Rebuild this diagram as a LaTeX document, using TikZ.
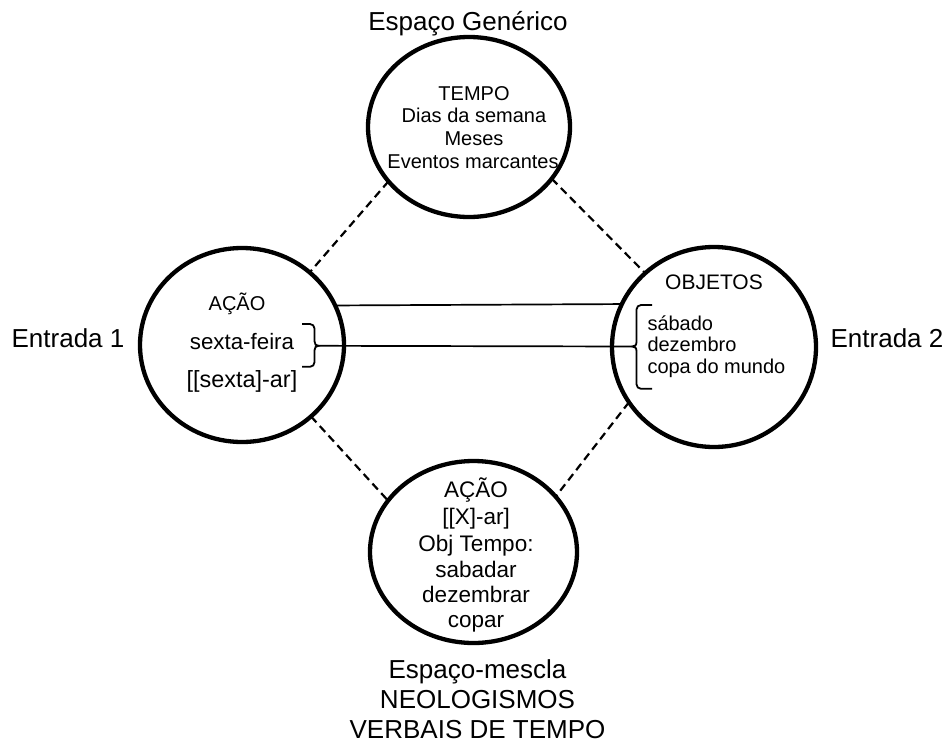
\documentclass[tikz,border=0pt]{standalone}
\usepackage{fontspec}
\setmainfont{Liberation Sans}
\usetikzlibrary{shapes.geometric}

\begin{document}
\begin{tikzpicture}[x=1pt,y=1pt,
  space/.style={ellipse, draw, line width=4.3pt, inner sep=0pt, outer sep=0pt},
  mapping/.style={draw, line width=2.2pt, dash pattern=on 8pt off 5pt},
  link/.style={draw, line width=1.7pt},
  curly/.style={draw, line width=1.8pt},
  label/.style={inner sep=0pt, anchor=base, font=\fontsize{26}{30}\selectfont},
  txt/.style={inner sep=0pt, anchor=base},
  listtxt/.style={inner sep=0pt, anchor=base west, font=\fontsize{20}{23}\selectfont}]
\useasboundingbox (0,0) rectangle (947,-744);

% the four mental spaces
\node[space, minimum width=202, minimum height=180] (gen) at (469,-127) {};
\node[space, minimum width=204, minimum height=194] (in1) at (242,-345) {};
\node[space, minimum width=204, minimum height=200] (in2) at (714,-347) {};
\node[space, minimum width=207, minimum height=182] (blend) at (473.5,-552) {};

% outer labels
\node[label] (lgen) at (468,-30.7) {Espaço Genérico};
\node[label] (lin1) at (68,-347) {Entrada 1};
\node[label] (lin2) at (887,-347) {Entrada 2};
\begin{scope}[every node/.append style={font=\fontsize{26.5}{30}\selectfont}]
\node[label] (lblend1) at (477.5,-678) {Espaço-mescla};
\node[label] (lblend2) at (477.5,-708) {NEOLOGISMOS};
\node[label] (lblend3) at (477.5,-738) {VERBAIS DE TEMPO};
\end{scope}

% contents of the generic space
\begin{scope}[every node/.append style={font=\fontsize{20}{23}\selectfont}]
\node[txt] (g1) at (474,-100) {TEMPO};
\node[txt] (g2) at (474,-122.3) {Dias da semana};
\node[txt] (g3) at (474,-145.2) {Meses};
\node[txt] (g4) at (473,-168) {Eventos marcantes};
\end{scope}

% contents of input 1
\node[txt, font=\fontsize{20}{24}\selectfont] (a1) at (237,-310.5) {AÇÃO};
\node[txt, font=\fontsize{22.3}{24}\selectfont] (a2) at (242,-349) {sexta-feira};
\node[txt, font=\fontsize{23.4}{24}\selectfont] (a3) at (242,-387) {[[sexta]-ar]};

% contents of input 2
\node[txt, font=\fontsize{21}{24}\selectfont] (b0) at (714,-289.3) {OBJETOS};
\node[listtxt] (b1) at (647.3,-330) {sábado};
\node[listtxt] (b2) at (647.3,-351.7) {dezembro};
\node[listtxt] (b3) at (647.3,-373.3) {copa do mundo};

% contents of the blend
\begin{scope}[every node/.append style={font=\fontsize{22.5}{25}\selectfont}]
\node[txt] (c1) at (476,-497.3) {AÇÃO};
\node[txt] (c2) at (476,-524.5) {[[X]-ar]};
\node[txt] (c3) at (476,-551) {Obj Tempo:};
\node[txt] (c4) at (476,-577) {sabadar};
\node[txt] (c5) at (476,-602) {dezembrar};
\node[txt] (c6) at (476,-627) {copar};
\end{scope}

% cross-space mappings
\draw[mapping] (gen.214.1) -- (in1.47.7);
\draw[mapping] (gen.328.5) -- (in2.133.9);
\draw[mapping] (in1.314.1) -- (blend.149);
\draw[mapping] (in2.213.7) -- (blend.34.3);

% braces grouping the counterparts
\coordinate (ltip) at (318.5,-345.8);
\coordinate (rtip) at (632.5,-346.5);
\draw[curly] (302,-324) -- (310,-324) to[out=0,in=90] (314.5,-328.5) -- (314.5,-341.3)
  .. controls (314.5,-344.3) and (316,-345.8) .. (ltip)
  .. controls (316,-345.8) and (314.5,-347.3) .. (314.5,-350.3) -- (314.5,-362.3)
  to[out=-90,in=0] (310,-366.8) -- (302,-366.8);
\draw[curly] (652,-305) -- (641,-305) to[out=180,in=90] (636.5,-309.5) -- (636.5,-341.8)
  .. controls (636.5,-345) and (635,-346.5) .. (rtip)
  .. controls (635,-346.5) and (636.5,-348) .. (636.5,-351.2) -- (636.5,-384.3)
  to[out=-90,in=180] (641,-388.8) -- (652,-388.8);

% counterpart links between the inputs
\draw[link] (in1.23.3) -- (in2.155.6);
\draw[link] (ltip) -- (rtip);
\end{tikzpicture}
\end{document}
